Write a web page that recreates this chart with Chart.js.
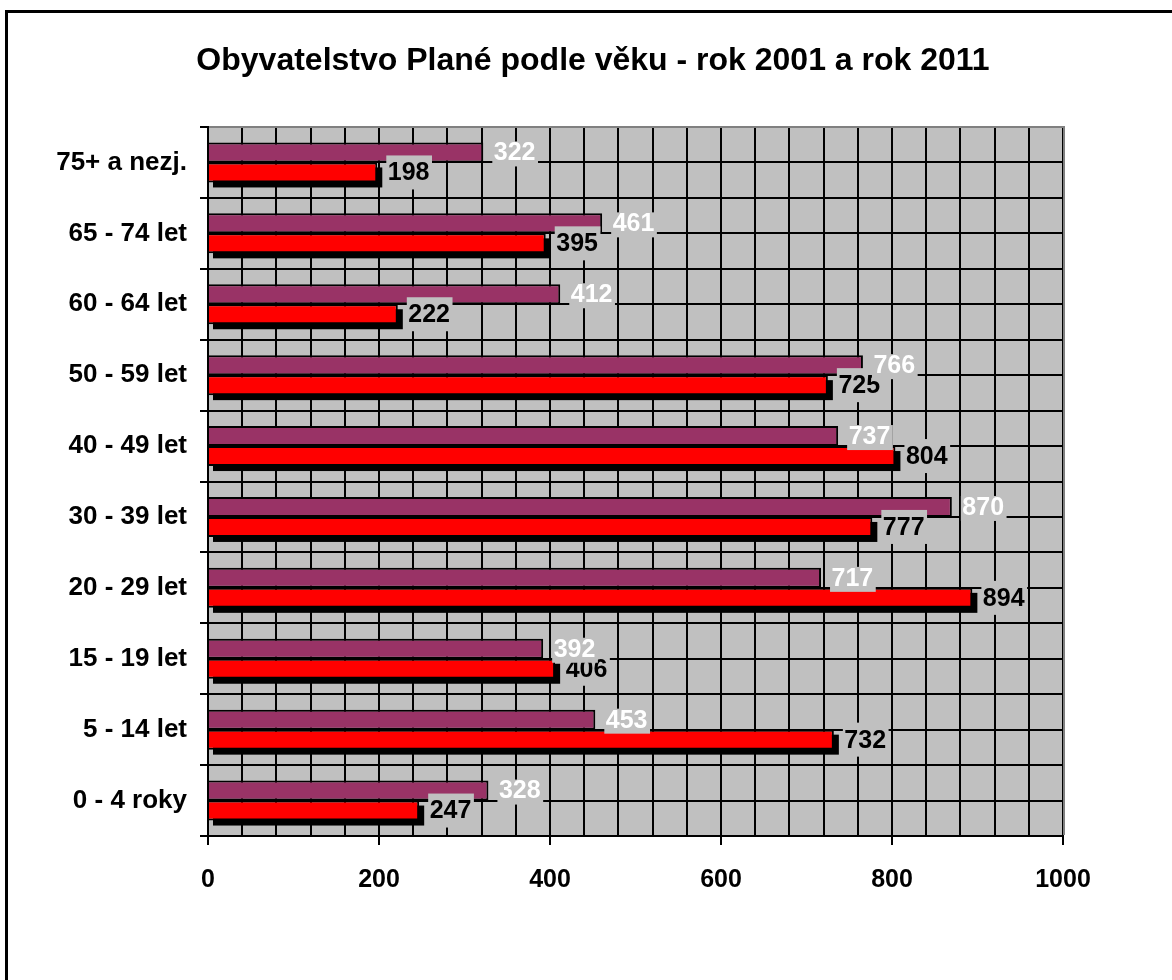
<!DOCTYPE html>
<html>
<head>
<meta charset="utf-8">
<script src="https://cdn.jsdelivr.net/npm/chart.js@4/dist/chart.umd.min.js"></script>
<style>
  html, body { margin: 0; padding: 0; background: #fff; overflow: hidden; }
  #wrap { position: relative; width: 1172px; height: 980px; }
</style>
</head>
<body>
<div id="wrap"><canvas id="c" width="1172" height="980"></canvas></div>
<script>
const chartTitle = 'Obyvatelstvo Plané podle věku - rok 2001 a rok 2011';
const categories = ['75+ a nezj.', '65 - 74 let', '60 - 64 let', '50 - 59 let', '40 - 49 let',
                    '30 - 39 let', '20 - 29 let', '15 - 19 let', '5 - 14 let', '0 - 4 roky'];
const values2011 = [322, 461, 412, 766, 737, 870, 717, 392, 453, 328];
const values2001 = [198, 395, 222, 725, 804, 777, 894, 406, 732, 247];
const xTickLabels = [0, 200, 400, 600, 800, 1000];

const FONT = '"Liberation Sans", Arial, sans-serif';

const framePlugin = {
  id: 'frame',
  beforeDraw(chart) {
    const { ctx, chartArea: a, width, height } = chart;
    ctx.save();
    ctx.fillStyle = '#ffffff';
    ctx.fillRect(0, 0, width, height);
    ctx.fillStyle = '#000000';
    ctx.fillRect(5, 10, 3, height - 10);
    ctx.fillRect(5, 10, width - 5, 3);
    ctx.fillStyle = '#C0C0C0';
    ctx.fillRect(a.left, a.top, a.right - a.left, a.bottom - a.top);
    ctx.restore();
  },
  beforeDatasetsDraw(chart) {
    const { ctx, chartArea: a } = chart;
    const ys = chart.scales.y;
    ctx.save();
    ctx.strokeStyle = '#000000';
    ctx.lineWidth = 2;
    for (let i = 0; i < categories.length; i++) {
      const y = Math.round(ys.getPixelForValue(i));
      ctx.beginPath();
      ctx.moveTo(a.left, y);
      ctx.lineTo(a.right, y);
      ctx.stroke();
    }
    ctx.strokeStyle = '#808080';
    ctx.lineWidth = 2;
    ctx.beginPath();
    ctx.moveTo(a.left + 1, a.top);
    ctx.lineTo(a.right + 1, a.top);
    ctx.lineTo(a.right + 1, a.bottom - 1);
    ctx.stroke();
    ctx.restore();
  },
  beforeDatasetDraw(chart, args) {
    if (args.index !== 1) return;
    const { ctx } = chart;
    const meta = chart.getDatasetMeta(1);
    ctx.save();
    ctx.fillStyle = '#000000';
    meta.data.forEach(el => {
      const p = el.getProps(['x', 'y', 'base', 'height'], true);
      const left = Math.min(p.x, p.base), right = Math.max(p.x, p.base);
      const top = p.y - p.height / 2;
      ctx.fillRect(left + 4, top + 5, right - left + 1, p.height);
    });
    ctx.restore();
  },
  afterDatasetsDraw(chart) {
    const { ctx } = chart;
    ctx.save();
    ctx.font = 'bold 25px ' + FONT;
    ctx.textBaseline = 'middle';
    ctx.textAlign = 'left';
    [1, 0].forEach(di => {
      const meta = chart.getDatasetMeta(di);
      const vals = chart.data.datasets[di].data;
      meta.data.forEach((el, i) => {
        const p = el.getProps(['x', 'y'], true);
        const txt = String(vals[i]);
        const tw = ctx.measureText(txt).width;
        ctx.fillStyle = '#C0C0C0';
        if (di === 1) {
          ctx.fillRect(p.x + 9, p.y - 17, tw + 4, 34);
          ctx.fillStyle = '#000000';
        } else {
          ctx.fillRect(p.x + 9, p.y - 11, tw + 4, 25);
          ctx.fillStyle = '#ffffff';
        }
        ctx.fillText(txt, p.x + 10.5, p.y + 1);
      });
    });
    ctx.restore();
  },
  afterDraw(chart) {
    const { ctx } = chart;
    ctx.save();
    ctx.font = 'bold 32px ' + FONT;
    ctx.fillStyle = '#000000';
    ctx.textAlign = 'center';
    ctx.textBaseline = 'middle';
    ctx.fillText(chartTitle, 593, 61);
    ctx.restore();
  }
};

new Chart(document.getElementById('c'), {
  type: 'bar',
  data: {
    labels: categories,
    datasets: [
      { label: '2011', data: values2011, backgroundColor: '#993366', borderColor: '#000000', borderWidth: 2,
        categoryPercentage: 0.564, barPercentage: 1.0 },
      { label: '2001', data: values2001, backgroundColor: '#FF0000', borderColor: '#000000', borderWidth: 2,
        categoryPercentage: 0.564, barPercentage: 1.0 }
    ]
  },
  options: {
    indexAxis: 'y',
    responsive: false,
    animation: false,
    layout: { padding: { top: 127, right: 109, bottom: 0, left: 0 } },
    plugins: { legend: { display: false }, title: { display: false }, tooltip: { enabled: false } },
    scales: {
      x: {
        type: 'linear', min: 0, max: 1000,
        afterFit(s) { s.height = 144; },
        ticks: {
          stepSize: 40, autoSkip: false, maxRotation: 0, padding: 20,
          color: '#000000', font: { family: FONT, size: 25, weight: 'bold' },
          callback: v => xTickLabels.includes(v) ? String(v) : ''
        },
        grid: {
          color: '#000000', lineWidth: 2, tickLength: 9,
          tickColor: ctx => (ctx.tick && xTickLabels.includes(ctx.tick.value)) ? '#000000' : 'rgba(0,0,0,0)'
        },
        border: { display: true, color: '#000000', width: 2 }
      },
      y: {
        type: 'category', offset: true,
        afterFit(s) { s.width = 208; },
        ticks: { padding: 13, color: '#000000', font: { family: FONT, size: 26, weight: 'bold' } },
        grid: { offset: true, color: '#000000', lineWidth: 2, tickLength: 8, tickColor: '#000000' },
        border: { display: true, color: '#000000', width: 2 }
      }
    }
  },
  plugins: [framePlugin]
});
</script>
</body>
</html>
